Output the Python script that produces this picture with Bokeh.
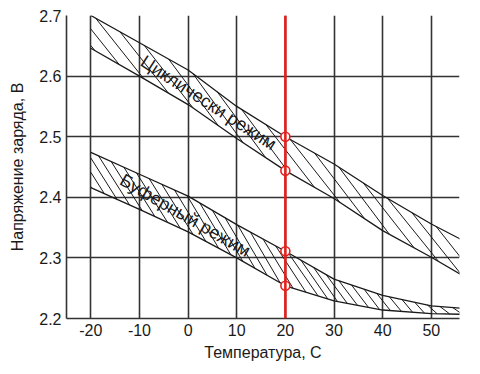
import numpy as np
from bokeh.plotting import figure
from bokeh.models import Range1d, FixedTicker, Label, Span
from bokeh.embed import file_html
from bokeh.resources import INLINE

# ---- data ----
temps = [-20, -10, 0, 10, 20, 30, 40, 50, 56]
cyc_top = [2.700, 2.655, 2.610, 2.550, 2.500, 2.455, 2.403, 2.356, 2.331]
cyc_bot = [2.646, 2.600, 2.553, 2.497, 2.444, 2.398, 2.345, 2.301, 2.273]
buf_top = [2.474, 2.438, 2.402, 2.355, 2.311, 2.265, 2.238, 2.221, 2.217]
buf_bot = [2.416, 2.380, 2.343, 2.300, 2.254, 2.229, 2.214, 2.208, 2.207]
ref_temp = 20
x_ticks = [-20, -10, 0, 10, 20, 30, 40, 50]
x_tick_labels = ["-20", "-10", "0", "10", "20", "30", "40", "50"]
y_ticks = [2.2, 2.3, 2.4, 2.5, 2.6, 2.7]
y_tick_labels = ["2.2", "2.3", "2.4", "2.5", "2.6", "2.7"]
cyc_label = "Циклически режим"
buf_label = "Буферный режим"
x_title = "Температура, С"
y_title = "Напряжение заряда, В"

FONT = "Liberation Sans"
INK = "#1a1a1a"
GRID = "#333333"
RED = "#e3221d"


def lerp(xs, ys, x):
    xs = np.asarray(xs, float)
    ys = np.asarray(ys, float)
    if x < xs[0]:
        return ys[0] + (x - xs[0]) * (ys[1] - ys[0]) / (xs[1] - xs[0])
    if x > xs[-1]:
        return ys[-1] + (x - xs[-1]) * (ys[-1] - ys[-2]) / (xs[-1] - xs[-2])
    return float(np.interp(x, xs, ys))


def hatch(top, bot, step, k, min_dx, x0=-20.0):
    hx, hy = [], []
    x = x0 - 14.0
    while x < 60:
        xc = max(x, x0)
        h = lerp(temps, top, xc) - lerp(temps, bot, xc)
        dx = max(k * h, min_dx)
        xe = x + dx
        ya = lerp(temps, top, x)
        yb = lerp(temps, bot, xe)
        if xe > x0:
            if x < x0:
                t = (x0 - x) / dx
                xa, y0 = x0, ya + t * (yb - ya)
            else:
                xa, y0 = x, ya
            hx.append([xa, xe])
            hy.append([y0, yb])
        x += step
    return hx, hy


p = figure(width=472, height=366, output_backend="svg", toolbar_location=None,
           x_range=Range1d(-25, 55.8), y_range=Range1d(2.2, 2.7),
           min_border_left=66, min_border_right=13, min_border_top=15,
           min_border_bottom=48)
p.outline_line_color = None
p.background_fill_color = "white"
p.border_fill_color = "white"

for ax in (p.xaxis[0], p.yaxis[0]):
    ax.axis_line_color = GRID
    ax.axis_line_width = 1.6
    ax.major_tick_out = 0
    ax.major_tick_in = 0
    ax.minor_tick_out = 0
    ax.minor_tick_in = 0
    ax.major_label_text_font = FONT
    ax.major_label_text_font_size = "16px"
    ax.major_label_text_color = INK
    ax.axis_label_text_font = FONT
    ax.axis_label_text_font_size = "16px"
    ax.axis_label_text_font_style = "normal"
    ax.axis_label_text_color = INK

p.xaxis.ticker = FixedTicker(ticks=x_ticks)
p.yaxis.ticker = FixedTicker(ticks=y_ticks)
p.xaxis.major_label_overrides = dict(zip(x_ticks, x_tick_labels))
p.yaxis.major_label_overrides = dict(zip(y_ticks, y_tick_labels))
p.xaxis.axis_label = x_title
p.yaxis.axis_label = y_title
p.xaxis.major_label_standoff = 5
p.yaxis.major_label_standoff = 5
p.xaxis.axis_label_standoff = 5
p.yaxis.axis_label_standoff = 10

p.xgrid.ticker = FixedTicker(ticks=x_ticks)
p.ygrid.ticker = FixedTicker(ticks=y_ticks)
for g in (p.xgrid[0], p.ygrid[0]):
    g.grid_line_color = GRID
    g.grid_line_width = 1.6

# band boundaries
for arr in (cyc_top, cyc_bot, buf_top, buf_bot):
    p.line(temps, arr, line_color=INK, line_width=1.3)

# hatching inside the bands
hx, hy = hatch(cyc_top, cyc_bot, step=5.0, k=182, min_dx=3.0)
p.multi_line(hx, hy, line_color=INK, line_width=1.0)
hx, hy = hatch(buf_top, buf_bot, step=2.6, k=110, min_dx=2.0)
p.multi_line(hx, hy, line_color=INK, line_width=1.0)

# band labels
p.add_layout(Label(x=4.2, y=2.556, text=cyc_label, angle=-33 * np.pi / 180,
                   text_align="center", text_baseline="middle",
                   text_font=FONT, text_font_size="18px", text_color=INK))
p.add_layout(Label(x=-0.6, y=2.370, text=buf_label, angle=-30 * np.pi / 180,
                   text_align="center", text_baseline="middle",
                   text_font=FONT, text_font_size="18px", text_color=INK))

# reference temperature line and points
p.add_layout(Span(location=ref_temp, dimension="height", line_color=RED,
                  line_width=2.6))
i = temps.index(ref_temp)
pts = [cyc_top[i], cyc_bot[i], buf_top[i], buf_bot[i]]
p.scatter([ref_temp] * len(pts), pts, size=9, fill_color="white",
          line_color=RED, line_width=1.6)

open("out.html", "w").write(file_html(p, INLINE))
